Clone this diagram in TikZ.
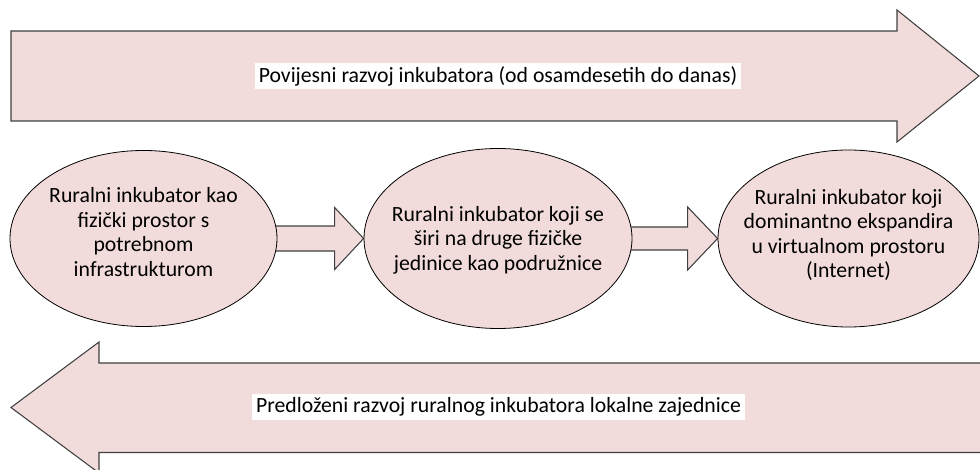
\documentclass[tikz,border=0pt]{standalone}
\usepackage{fontspec}
\setmainfont{Carlito}
\usetikzlibrary{calc,backgrounds,shapes.geometric}
\definecolor{pinkfill}{HTML}{F2DCDB}
\definecolor{edgegray}{HTML}{404040}
\begin{document}
\begin{tikzpicture}[x=0.75pt,y=-0.75pt,
  blockshape/.style={fill=pinkfill,draw=edgegray,line width=0.8pt,line join=miter},
  stage/.style={ellipse,fill=pinkfill,draw=black,line width=0.6pt,inner sep=0pt},
  stagetext/.style={inner sep=0pt,align=center,font=\fontsize{16.3}{18.3}\selectfont},
  banner/.style={fill=white,inner xsep=3pt,inner ysep=2.5pt,font=\fontsize{16.3}{18}\selectfont}]
\useasboundingbox (0,0) rectangle (980,470);
\clip (0,0) rectangle (980,470);
% big arrows
\draw[blockshape] (11,31) -- (897,31) -- (897,10) -- (979,76) -- (897,142) -- (897,121) -- (11,121) -- cycle;
\draw[blockshape] (995,363) -- (99,363) -- (99,342) -- (11,407.5) -- (99,473) -- (99,452.5) -- (995,452.5) -- cycle;
\node[banner] (t1) at (498,76) {Povijesni razvoj inkubatora (od osamdesetih do danas)};
\node[banner] (t2) at (498.5,407) {Predloženi razvoj ruralnog inkubatora lokalne zajednice};
% stages
\node[stage,minimum width=200.25pt,minimum height=132pt] (e1) at (143.5,238.5) {};
\node[stage,minimum width=201pt,minimum height=135pt] (e2) at (498,238.5) {};
\node[stage,minimum width=195.75pt,minimum height=132.75pt] (e3) at (848.5,238.5) {};
\node[stagetext] (e1t) at (143.5,232)
  {Ruralni inkubator kao\\fizički prostor s\\potrebnom\\infrastrukturom};
\node[stagetext] (e2t) at (498,240)
  {Ruralni inkubator koji se\\širi na druge fizičke\\jedinice kao podružnice};
\node[stagetext] (e3t) at (848.5,235)
  {Ruralni inkubator koji\\dominantno ekspandira\\u virtualnom prostoru\\(Internet)};
% connectors
\begin{scope}[on background layer]
\draw[blockshape] ($(e1.east)+(-8,-12.5)$) -- ($(e2.west)+(-29,-12.5)$) -- ($(e2.west)+(-29,-31)$)
  -- (e2.west) -- ($(e2.west)+(-29,31)$) -- ($(e2.west)+(-29,12.5)$) -- ($(e1.east)+(-8,12.5)$) -- cycle;
\draw[blockshape] ($(e2.east)+(-8,-11.5)$) -- ($(e3.west)+(-30,-11.5)$) -- ($(e3.west)+(-30,-31.5)$)
  -- (e3.west) -- ($(e3.west)+(-30,31.5)$) -- ($(e3.west)+(-30,11.5)$) -- ($(e2.east)+(-8,11.5)$) -- cycle;
\end{scope}
\end{tikzpicture}
\end{document}
